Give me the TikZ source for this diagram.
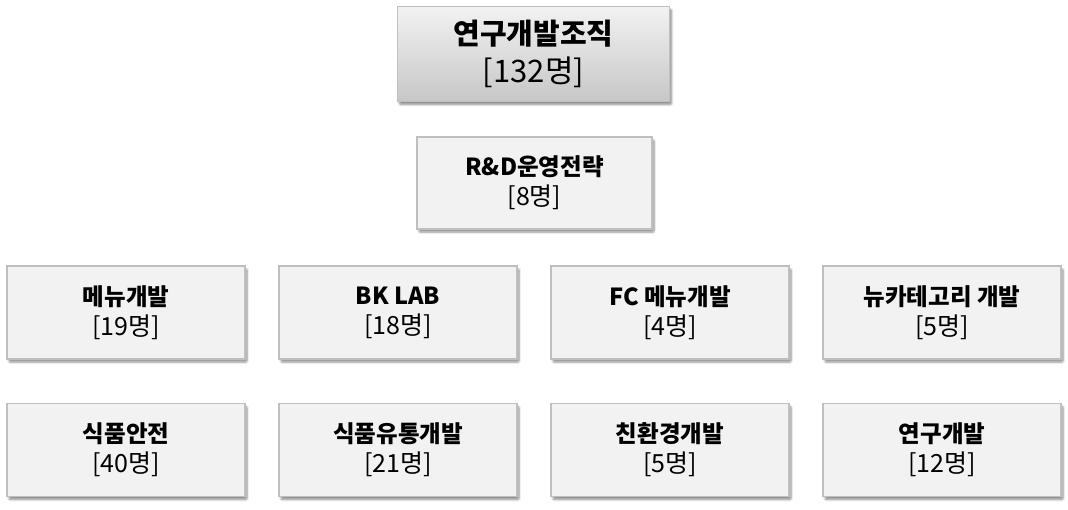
\documentclass[tikz,border=0pt]{standalone}
\usepackage{fontspec}
\setmainfont{Noto Sans CJK KR}
\usetikzlibrary{shadows.blur}
\definecolor{boxfill}{HTML}{F2F2F2}
\definecolor{boxline}{HTML}{BFBFBF}
\newcommand{\ttl}[1]{{\bfseries #1}}
\newcommand{\cnt}[1]{{\fontsize{25}{30}\selectfont #1}}
\newcommand{\bigcnt}[1]{{\fontsize{31}{38}\selectfont #1}}
\tikzset{
  unit/.style={draw=boxline, line width=1.2pt, fill=boxfill, minimum width=238pt, minimum height=93pt,
    align=center, inner sep=0pt, font=\fontsize{23.5}{30}\selectfont,
    blur shadow={shadow xshift=2pt, shadow yshift=-3pt, shadow blur steps=6, shadow blur extra rounding=1pt, shadow opacity=45}},
  topunit/.style={unit, top color=boxfill, bottom color=black!22, minimum width=272pt, minimum height=95pt,
    font=\fontsize{29}{38}\selectfont},
}
\begin{document}
\begin{tikzpicture}[x=1pt,y=1pt]
\useasboundingbox (0,0) rectangle (1068,-509);
\node[topunit] (top) at (533.5,-54) {\ttl{연구개발조직}\\\bigcnt{[132명]}};
\node[unit, minimum width=235pt, minimum height=92pt] (rd) at (534.5,-183) {\ttl{R\&D운영전략}\\\cnt{[8명]}};
\node[unit] (a1) at (126,-312.5) {\ttl{메뉴개발}\\\cnt{[19명]}};
\node[unit] (a2) at (398,-312.5) {\ttl{BK LAB}\\\cnt{[18명]}};
\node[unit] (a3) at (670,-312.5) {\ttl{FC 메뉴개발}\\\cnt{[4명]}};
\node[unit] (a4) at (942,-312.5) {\ttl{뉴카테고리 개발}\\\cnt{[5명]}};
\node[unit] (b1) at (126,-450) {\ttl{식품안전}\\\cnt{[40명]}};
\node[unit] (b2) at (398,-450) {\ttl{식품유통개발}\\\cnt{[21명]}};
\node[unit] (b3) at (670,-450) {\ttl{친환경개발}\\\cnt{[5명]}};
\node[unit] (b4) at (942,-450) {\ttl{연구개발}\\\cnt{[12명]}};
\end{tikzpicture}
\end{document}
